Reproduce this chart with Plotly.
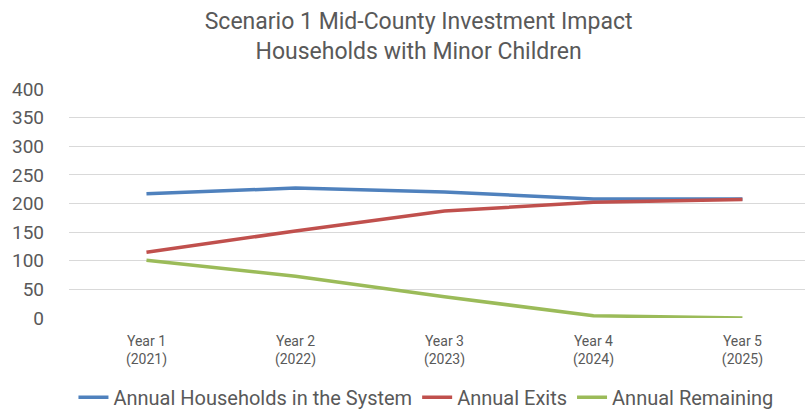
import plotly.graph_objects as go

# categories along x
years = ["Year 1<br>(2021)", "Year 2<br>(2022)", "Year 3<br>(2023)", "Year 4<br>(2024)", "Year 5<br>(2025)"]

# series
households = [217, 227, 220, 208, 208]
exits = [115, 152, 187, 202, 207]
remaining = [101, 73, 37, 4, 0]

FONT = "Liberation Sans Narrow, Roboto, Arial"
GREY = "#595959"

fig = go.Figure()
fig.add_trace(go.Scatter(x=years, y=households, mode="lines", name="Annual Households in the System",
                         line=dict(color="#4F81BD", width=3.5)))
fig.add_trace(go.Scatter(x=years, y=exits, mode="lines", name="Annual Exits",
                         line=dict(color="#C0504D", width=3.5)))
fig.add_trace(go.Scatter(x=years, y=remaining, mode="lines", name="Annual Remaining",
                         line=dict(color="#9BBB59", width=3.5)))

fig.update_layout(
    width=805, height=412,
    margin=dict(l=69, r=0, t=89, b=94, autoexpand=False),
    paper_bgcolor="white", plot_bgcolor="white",
    font=dict(family=FONT, color=GREY),
    title=dict(text="Scenario 1 Mid-County Investment Impact<br>Households with Minor Children",
               x=0.52, xanchor="center", yref="container", y=0.93, yanchor="top",
               font=dict(size=23, color=GREY, family=FONT)),
    xaxis=dict(type="category", range=[-0.52, 4.42], showgrid=False, zeroline=False,
               showline=False, ticks="", ticklabelstandoff=13, automargin=False,
               tickfont=dict(size=14, color=GREY)),
    yaxis=dict(range=[0, 400], dtick=50, showgrid=True, gridcolor="#D9D9D9", gridwidth=1,
               zeroline=False, showline=False, ticks="", ticklabelstandoff=24, automargin=False,
               tickfont=dict(size=19, color=GREY)),
    legend=dict(orientation="h", x=0.485, xanchor="center", yref="container", y=0.036,
                yanchor="middle", font=dict(size=20, color=GREY, family=FONT),
                itemwidth=30, tracegroupgap=0),
    showlegend=True,
)

# drop the default body margin so the figure fills the window exactly
fig.write_html("out.html", config={"displayModeBar": False},
               post_script="document.body.style.margin='0';document.body.style.overflow='hidden';")
